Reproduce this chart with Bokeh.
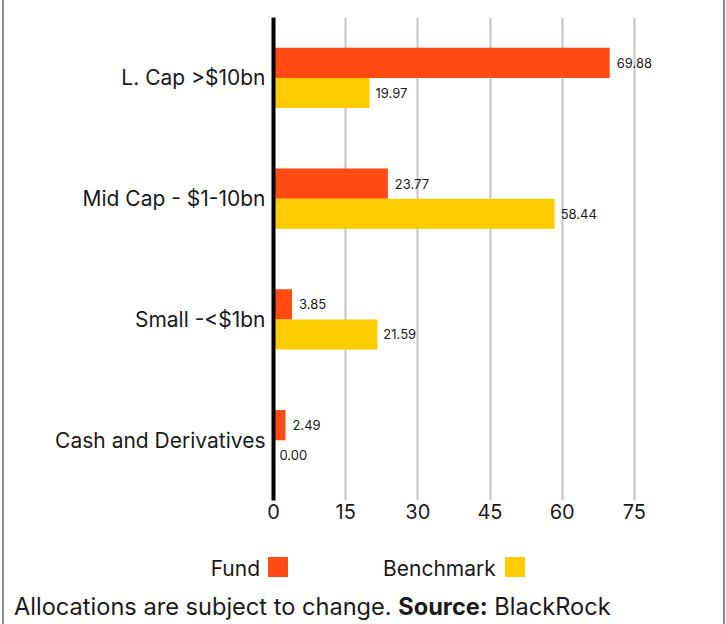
from bokeh.plotting import figure
from bokeh.models import FactorRange, Range1d, FixedTicker, ColumnDataSource, Spacer, Div
from bokeh.layouts import column, row
from bokeh.transform import dodge
from bokeh.embed import file_html
from bokeh.resources import INLINE
from bokeh.core.properties import value

categories = ["L. Cap >$10bn", "Mid Cap - $1-10bn", "Small -<$1bn", "Cash and Derivatives"]
fund = [69.88, 23.77, 3.85, 2.49]
benchmark = [19.97, 58.44, 21.59, 0.00]
x_ticks = [0, 15, 30, 45, 60, 75]
series_names = ["Fund", "Benchmark"]
colors = ["#ff4a14", "#ffcc00"]
footnote = ["Allocations are subject to change.", "Source:", "BlackRock"]

FONT = "Inter"
TXT = "#1a1a1a"
BORDER = "#8a8a8a"

src = ColumnDataSource(dict(
    cat=categories, fund=fund, bench=benchmark,
    fund_lbl=[f"{v:.2f}" for v in fund],
    bench_lbl=[f"{v:.2f}" for v in benchmark],
))

W = 719
p = figure(width=W, height=540,
           y_range=FactorRange(factors=categories[::-1]),
           x_range=Range1d(0, 90),
           output_backend="svg", toolbar_location=None,
           min_border_left=269, min_border_right=17,
           min_border_top=17, min_border_bottom=40)
p.outline_line_color = None

p.hbar(y=dodge("cat", 0.125, range=p.y_range), left=0, right="fund", height=0.25,
       fill_color=colors[0], line_color=None, source=src)
p.hbar(y=dodge("cat", -0.125, range=p.y_range), left=0, right="bench", height=0.25,
       fill_color=colors[1], line_color=None, source=src)

p.text(x="fund", y=dodge("cat", 0.125, range=p.y_range), text="fund_lbl", x_offset=7,
       text_font_size="13px", text_baseline="middle", text_align="left",
       text_font=value(FONT), text_color=TXT, source=src)
p.text(x="bench", y=dodge("cat", -0.125, range=p.y_range), text="bench_lbl", x_offset=6,
       text_font_size="13px", text_baseline="middle", text_align="left",
       text_font=value(FONT), text_color=TXT, source=src)

p.xgrid.ticker = FixedTicker(ticks=x_ticks)
p.xgrid.grid_line_color = "#c4c4c4"
p.xgrid.grid_line_width = 2
p.ygrid.grid_line_color = None

p.xaxis.ticker = FixedTicker(ticks=x_ticks)
p.xaxis.axis_line_color = None
p.xaxis.major_tick_line_color = None
p.xaxis.minor_tick_line_color = None
p.xaxis.major_tick_out = 0
p.xaxis.major_label_standoff = 3
p.xaxis.major_label_text_font_size = "20px"
p.xaxis.major_label_text_font = FONT
p.xaxis.major_label_text_color = TXT

p.yaxis.axis_line_color = "black"
p.yaxis.axis_line_width = 4
p.yaxis.major_tick_line_color = None
p.yaxis.minor_tick_line_color = None
p.yaxis.major_tick_out = 0
p.yaxis.major_label_standoff = 8
p.yaxis.major_label_text_font_size = "21px"
p.yaxis.major_label_text_font = FONT
p.yaxis.major_label_text_color = TXT

# footer: legend + footnote (positions relative to the footer box)
span_txt = "position:absolute;top:{t}px;{side}:{x}px;font-size:{s}px;line-height:26px;white-space:nowrap;"
span_sq = "position:absolute;top:{t}px;left:{x}px;width:20px;height:20px;background:{c};"
html = (
    f'<div style="position:relative;width:{W}px;height:84px;font-family:{FONT};color:{TXT};">'
    f'<span style="{span_txt.format(t=16, side="right", x=463, s=21)}">{series_names[0]}</span>'
    f'<span style="{span_sq.format(t=17, x=264, c=colors[0])}"></span>'
    f'<span style="{span_txt.format(t=16, side="left", x=379, s=21)}">{series_names[1]}</span>'
    f'<span style="{span_sq.format(t=17, x=501, c=colors[1])}"></span>'
    f'<span style="{span_txt.format(t=54, side="left", x=10, s=23.6)}">{footnote[0]} '
    f'<b>{footnote[1]}</b> {footnote[2]}</span>'
    '</div>'
)
foot = Div(text=html, width=W, height=84, margin=0)

left_gap = Spacer(width=2, height=624)
left_border = Spacer(width=2, height=624, styles={"background-color": BORDER})
right_border = Spacer(width=2, height=624, styles={"background-color": BORDER})
layout = row(left_gap, left_border, column(p, foot, spacing=0), right_border, spacing=0)

open("out.html", "w").write(file_html(layout, INLINE))
